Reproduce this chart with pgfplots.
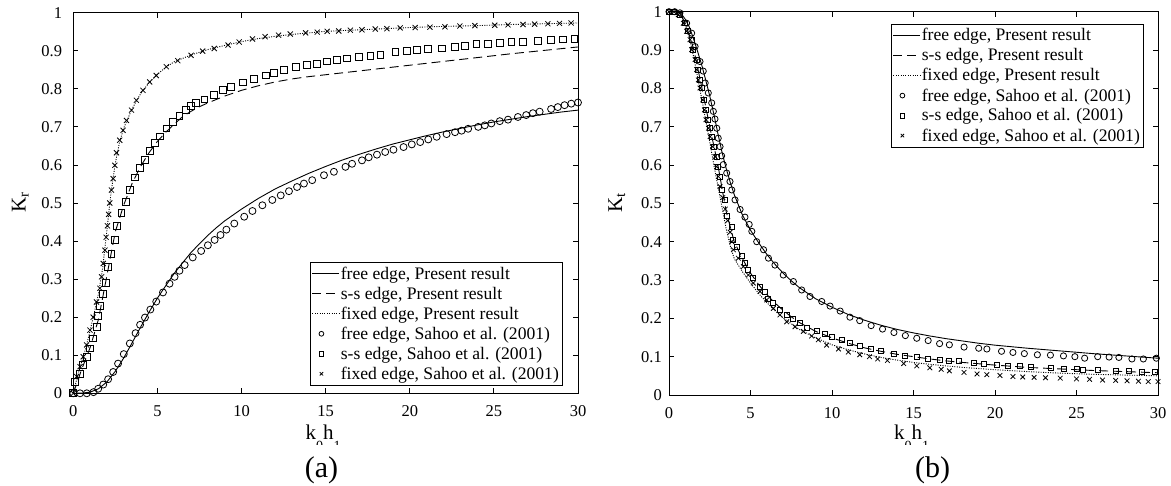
\documentclass[border=0pt]{standalone}
\usepackage{fontspec}
\setmainfont{Liberation Serif}
\usepackage{pgfplots}
\pgfplotsset{compat=1.18}
\pgfplotsset{
  lineleg/.style={legend image code/.code={\draw[##1] (0bp,0bp) -- (27bp,0bp);}},
  markleg/.style={legend image code/.code={\path[draw=none,fill=none] (0bp,0bp) -- (27bp,0bp); \path[##1,draw=none,mark size=2.4bp] plot coordinates {(9bp,0bp)};}},
  base/.style={scale only axis, xmin=0, xmax=30, ymin=0, ymax=1,
    xtick={0,5,10,15,20,25,30}, ytick={0,0.1,0.2,0.3,0.4,0.5,0.6,0.7,0.8,0.9,1},
    tick align=inside, major tick length=5bp,
    axis line style={line width=0.8bp},
    every tick/.style={black, line width=0.8bp},
    tick label style={font=\fontsize{16.5bp}{18bp}\selectfont},
    /pgf/number format/assume math mode=true,
    xticklabel style={inner sep=0pt, yshift=-12bp},
    legend cell align=left,
    legend style={font=\fontsize{17.6bp}{19bp}\selectfont, draw=black, line width=0.7bp,
      inner xsep=2bp, inner ysep=1.5bp, row sep=0pt, outer sep=0pt,
      nodes={inner xsep=1bp, inner ysep=3.1bp}},
  },
  solidl/.style={black, line width=0.9bp, lineleg},
  dashl/.style={black, line width=0.9bp, dash pattern=on 9bp off 5bp, lineleg},
  dotl/.style={black, line width=0.9bp, dash pattern=on 1bp off 1.4bp, lineleg},
  mk/.style={only marks, mark options={line width=0.8bp, black, solid}, markleg},
}
\begin{document}
\begin{tikzpicture}
\useasboundingbox (0,0) rectangle (1171bp,486bp);
% ---------------- (a) ----------------
\begin{axis}[base, at={(73.3bp,92.7bp)}, anchor=south west, width=504.7bp, height=380.6bp,
  yticklabel style={inner sep=0pt, xshift=-11bp},
  legend style={at={(0.968,0.021)}, anchor=south east}]
\addplot[solidl] coordinates {(0,0)(0.5,0.0005)(1,0.003)(1.5,0.012)(2,0.03)(2.5,0.058)(3,0.093)(3.5,0.133)(4,0.174)(4.5,0.213)(5,0.25)(5.5,0.283)(6,0.315)(6.5,0.343)(7,0.37)(7.5,0.393)(8,0.415)(8.5,0.435)(9,0.453)(10,0.484)(11,0.512)(12,0.537)(13,0.558)(14,0.578)(15,0.596)(16,0.613)(17,0.628)(18,0.642)(19,0.655)(20,0.666)(21,0.677)(22,0.687)(23,0.696)(24,0.705)(25,0.713)(26,0.72)(27,0.727)(28,0.733)(29,0.739)(30,0.744)};
\addlegendentry{free edge, Present result}
\addplot[dashl] coordinates {(0,0)(0.5,0.063)(1,0.12)(1.5,0.195)(2,0.31)(2.5,0.425)(3,0.495)(3.5,0.552)(4,0.596)(4.5,0.632)(5,0.662)(5.5,0.686)(6,0.707)(6.5,0.727)(7,0.741)(7.5,0.753)(8,0.763)(9,0.781)(10,0.796)(11,0.808)(12,0.818)(13,0.826)(14,0.832)(15,0.837)(16,0.842)(17,0.847)(18,0.852)(19,0.857)(20,0.862)(22,0.872)(24,0.882)(26,0.892)(28,0.901)(30,0.91)};
\addlegendentry{s-s edge, Present result}
\addplot[dotl] coordinates {(0,0)(0.25,0.045)(0.5,0.083)(0.75,0.12)(1,0.165)(1.25,0.212)(1.5,0.262)(1.75,0.33)(2,0.43)(2.25,0.53)(2.5,0.605)(2.75,0.66)(3,0.697)(3.5,0.748)(4,0.787)(4.5,0.816)(5,0.838)(5.5,0.857)(6,0.871)(7,0.889)(8,0.903)(9,0.914)(10,0.924)(11,0.932)(12,0.938)(13,0.943)(14,0.947)(15,0.951)(16,0.953)(18,0.957)(20,0.961)(22,0.964)(24,0.966)(26,0.969)(28,0.971)(30,0.973)};
\addlegendentry{fixed edge, Present result}
\addplot[mk, mark=o, mark size=3.5bp] coordinates {(0,0)(0.4,0)(0.8,0)(1.2,0.003)(1.48,0.012)(1.78,0.023)(2.07,0.037)(2.37,0.056)(2.66,0.078)(3.0,0.103)(3.36,0.131)(3.7,0.158)(3.97,0.18)(4.26,0.199)(4.58,0.22)(4.93,0.241)(5.33,0.265)(5.72,0.288)(6.02,0.306)(6.31,0.322)(6.62,0.337)(7.1,0.357)(7.6,0.374)(8.0,0.389)(8.4,0.403)(8.75,0.416)(9.1,0.43)(9.57,0.446)(10.16,0.464)(10.65,0.479)(11.24,0.494)(11.83,0.508)(12.33,0.52)(12.82,0.531)(13.3,0.542)(13.71,0.551)(14.2,0.56)(14.9,0.573)(15.49,0.582)(16.18,0.595)(16.57,0.603)(17.16,0.612)(17.56,0.62)(18.05,0.627)(18.54,0.634)(19.03,0.64)(19.63,0.647)(20.12,0.654)(20.62,0.66)(21.1,0.667)(21.6,0.674)(22.19,0.681)(22.69,0.686)(23.08,0.69)(23.47,0.695)(24.07,0.7)(24.46,0.704)(24.85,0.709)(25.35,0.715)(25.84,0.719)(26.43,0.726)(26.92,0.731)(27.32,0.736)(27.72,0.74)(28.4,0.747)(28.8,0.752)(29.2,0.757)(29.6,0.761)(30,0.764)};
\addlegendentry{free edge, Sahoo et al. (2001)}
\addplot[mk, mark=square, mark size=3.4bp] coordinates {(0,0)(0.1,0.03)(0.4,0.052)(0.59,0.074)(0.8,0.095)(0.99,0.118)(1.18,0.144)(1.38,0.175)(1.48,0.203)(1.58,0.229)(1.78,0.262)(1.93,0.29)(2.07,0.332)(2.27,0.367)(2.47,0.404)(2.6,0.439)(2.86,0.474)(3.12,0.503)(3.36,0.535)(3.65,0.567)(3.94,0.592)(4.24,0.614)(4.54,0.637)(4.83,0.657)(5.13,0.675)(5.53,0.696)(5.92,0.713)(6.31,0.728)(6.71,0.744)(7.0,0.755)(7.3,0.762)(7.79,0.772)(8.38,0.784)(8.88,0.797)(9.37,0.806)(10.06,0.817)(10.75,0.826)(11.44,0.835)(11.93,0.841)(12.53,0.849)(13.22,0.857)(13.9,0.862)(14.5,0.866)(15.09,0.872)(15.68,0.876)(16.27,0.88)(16.96,0.884)(17.66,0.887)(18.25,0.89)(19.14,0.896)(19.82,0.899)(20.41,0.902)(21.1,0.904)(21.89,0.906)(22.69,0.91)(23.28,0.913)(23.96,0.917)(24.66,0.919)(25.35,0.921)(26.04,0.923)(26.73,0.924)(27.62,0.926)(28.4,0.928)(29.1,0.93)(29.79,0.932)};
\addlegendentry{s-s edge, Sahoo et al. (2001)}
\addplot[mk, mark=x, mark size=3.6bp] coordinates {(0,0)(0.2,0.044)(0.4,0.07)(0.59,0.096)(0.79,0.127)(0.99,0.166)(1.18,0.2)(1.38,0.24)(1.58,0.276)(1.68,0.306)(1.78,0.341)(1.88,0.376)(1.95,0.41)(2.03,0.44)(2.1,0.47)(2.17,0.5)(2.27,0.534)(2.37,0.564)(2.47,0.599)(2.57,0.632)(2.76,0.665)(2.96,0.691)(3.16,0.717)(3.46,0.744)(3.75,0.77)(4.14,0.796)(4.54,0.818)(4.93,0.835)(5.53,0.858)(6.21,0.874)(7.0,0.888)(7.69,0.899)(8.38,0.906)(9.2,0.915)(9.86,0.923)(10.65,0.931)(11.4,0.937)(12.2,0.941)(12.9,0.944)(13.81,0.947)(14.5,0.949)(15.09,0.951)(15.78,0.952)(16.47,0.954)(17.16,0.955)(17.95,0.957)(18.64,0.958)(19.43,0.96)(20.32,0.961)(21.2,0.962)(22.09,0.963)(22.98,0.965)(23.87,0.966)(25.05,0.967)(25.84,0.968)(26.73,0.969)(27.42,0.97)(28.21,0.971)(28.9,0.972)(29.59,0.973)};
\addlegendentry{fixed edge, Sahoo et al. (2001)}
\end{axis}
% ---------------- (b) ----------------
\begin{axis}[base, at={(669bp,91bp)}, anchor=south west, width=489bp, height=383.3bp,
  yticklabel style={inner sep=0pt, xshift=-7bp},
  legend style={at={(0.969,0.968)}, anchor=north east}]
\addplot[solidl] coordinates {(0,1)(0.5,1)(0.75,0.995)(1,0.98)(1.25,0.96)(1.5,0.93)(1.75,0.897)(2,0.862)(2.25,0.822)(2.5,0.78)(2.75,0.733)(3,0.682)(3.25,0.634)(3.5,0.592)(3.75,0.556)(4,0.523)(4.5,0.47)(5,0.43)(5.5,0.397)(6,0.367)(6.5,0.341)(7,0.318)(7.5,0.298)(8,0.28)(9,0.251)(10,0.229)(11,0.21)(12,0.195)(13,0.182)(14,0.171)(15,0.162)(16,0.154)(17,0.147)(18,0.141)(19,0.135)(20,0.13)(22,0.122)(24,0.115)(26,0.108)(28,0.102)(30,0.096)};
\addlegendentry{free edge, Present result}
\addplot[dashl] coordinates {(0,1)(0.5,1)(0.75,0.99)(1,0.97)(1.5,0.905)(2,0.805)(2.5,0.7)(3,0.6)(3.5,0.48)(4,0.4)(4.5,0.356)(5,0.318)(5.5,0.288)(6,0.262)(6.5,0.24)(7,0.221)(7.5,0.204)(8,0.189)(9,0.166)(10,0.149)(11,0.135)(12,0.123)(13,0.114)(14,0.106)(15,0.1)(16,0.094)(17,0.089)(18,0.085)(20,0.078)(22,0.072)(24,0.068)(26,0.064)(28,0.061)(30,0.058)};
\addlegendentry{s-s edge, Present result}
\addplot[dotl] coordinates {(0,1)(0.5,1)(0.75,0.99)(1,0.965)(1.25,0.93)(1.5,0.885)(1.75,0.83)(2,0.775)(2.25,0.718)(2.5,0.66)(2.75,0.6)(3,0.545)(3.25,0.49)(3.5,0.435)(3.75,0.39)(4,0.356)(4.5,0.322)(5,0.292)(5.5,0.265)(6,0.241)(6.5,0.22)(7,0.201)(7.5,0.186)(8,0.171)(9,0.149)(10,0.131)(11,0.118)(12,0.107)(13,0.098)(14,0.091)(15,0.085)(16,0.08)(18,0.072)(20,0.066)(22,0.061)(24,0.057)(26,0.054)(28,0.052)(30,0.05)};
\addlegendentry{fixed edge, Present result}
\addplot[mk, mark=o, mark size=3.1bp] coordinates {(0,1)(0.35,1)(0.67,0.997)(1.08,0.97)(1.39,0.944)(1.6,0.909)(1.9,0.87)(2.1,0.845)(2.22,0.814)(2.41,0.788)(2.62,0.762)(2.72,0.74)(2.82,0.72)(2.93,0.696)(3.02,0.67)(3.13,0.648)(3.23,0.624)(3.33,0.601)(3.54,0.579)(3.74,0.557)(3.85,0.535)(4.05,0.509)(4.36,0.484)(4.66,0.464)(4.92,0.445)(5.08,0.427)(5.38,0.40)(5.8,0.379)(6.1,0.357)(6.5,0.339)(7.01,0.313)(7.63,0.296)(8.14,0.274)(8.65,0.257)(9.37,0.244)(9.88,0.232)(10.5,0.219)(11.1,0.203)(11.7,0.194)(12.4,0.181)(13.1,0.172)(13.8,0.163)(14.5,0.155)(15.2,0.148)(15.9,0.142)(16.6,0.134)(17.2,0.131)(18.1,0.125)(19.0,0.122)(19.5,0.12)(20.4,0.114)(21.1,0.111)(21.8,0.108)(22.6,0.105)(23.4,0.104)(24.2,0.102)(24.9,0.1)(25.5,0.096)(26.3,0.1)(27,0.099)(27.6,0.098)(28.4,0.094)(29.1,0.094)(29.9,0.096)};
\addlegendentry{free edge, Sahoo et al. (2001)}
\addplot[mk, mark=square, mark size=2.5bp] coordinates {(0,1)(0.3,1)(0.67,0.992)(0.98,0.97)(1.18,0.949)(1.39,0.927)(1.49,0.901)(1.7,0.875)(1.8,0.849)(1.9,0.822)(2.0,0.801)(2.17,0.77)(2.27,0.744)(2.37,0.718)(2.52,0.696)(2.62,0.674)(2.78,0.648)(2.93,0.622)(3.02,0.596)(3.13,0.57)(3.23,0.535)(3.44,0.509)(3.54,0.467)(3.85,0.438)(3.95,0.405)(4.15,0.387)(4.46,0.363)(4.66,0.344)(4.87,0.326)(5.17,0.305)(5.58,0.283)(5.89,0.27)(6.09,0.252)(6.4,0.241)(6.81,0.222)(7.22,0.209)(7.63,0.198)(8.04,0.189)(8.45,0.176)(9.06,0.166)(9.57,0.16)(9.98,0.151)(10.6,0.144)(11.1,0.137)(11.7,0.128)(12.4,0.12)(13,0.114)(13.8,0.107)(14.5,0.103)(15.2,0.099)(15.9,0.095)(16.6,0.092)(17.2,0.09)(17.8,0.088)(18.7,0.085)(19.3,0.082)(20.1,0.079)(20.8,0.077)(21.5,0.075)(22.2,0.074)(23.4,0.071)(24.2,0.069)(25,0.067)(25.4,0.066)(26.3,0.065)(27.4,0.063)(28.2,0.062)(29,0.061)(29.8,0.06)};
\addlegendentry{s-s edge, Sahoo et al. (2001)}
\addplot[mk, mark=x, mark size=3.3bp] coordinates {(0,1)(0.3,1)(0.57,0.992)(0.88,0.97)(1.08,0.949)(1.29,0.927)(1.39,0.901)(1.6,0.875)(1.7,0.849)(1.8,0.822)(1.9,0.801)(2.07,0.77)(2.17,0.744)(2.27,0.718)(2.42,0.696)(2.52,0.674)(2.68,0.648)(2.83,0.622)(2.92,0.596)(3.03,0.57)(3.13,0.544)(3.3,0.515)(3.45,0.485)(3.6,0.455)(3.75,0.425)(3.85,0.4)(3.95,0.379)(4.25,0.357)(4.56,0.335)(4.87,0.313)(5.17,0.292)(5.58,0.27)(5.99,0.248)(6.4,0.226)(6.81,0.209)(7.22,0.191)(7.73,0.178)(8.24,0.166)(8.75,0.154)(9.16,0.144)(9.67,0.13)(10.4,0.12)(11,0.112)(11.7,0.105)(12.3,0.1)(12.8,0.094)(13.4,0.09)(14.4,0.082)(15.2,0.076)(16,0.071)(16.7,0.067)(17.2,0.063)(18.1,0.059)(18.9,0.055)(19.5,0.053)(20.3,0.051)(21.1,0.048)(21.7,0.047)(22.4,0.046)(23.1,0.045)(24,0.044)(25,0.042)(25.8,0.041)(26.6,0.039)(27.4,0.038)(28.1,0.037)(28.8,0.036)(29.4,0.035)(30,0.035)};
\addlegendentry{fixed edge, Sahoo et al. (2001)}
\end{axis}
% labels
\node[anchor=base, rotate=90, font=\fontsize{21bp}{23bp}\selectfont] at (25.5bp,283.5bp) {K\textsubscript{r}};
\node[anchor=base, rotate=90, font=\fontsize{21bp}{23bp}\selectfont] at (622bp,283.5bp) {K\textsubscript{t}};
\node[anchor=base, font=\fontsize{21bp}{23bp}\selectfont] at (323bp,46.7bp) {k\raisebox{-11bp}{\fontsize{14bp}{15bp}\selectfont 0}h\raisebox{-11bp}{\fontsize{14bp}{15bp}\selectfont 1}};
\node[anchor=base, font=\fontsize{21bp}{23bp}\selectfont] at (911.7bp,46.7bp) {k\raisebox{-11bp}{\fontsize{14bp}{15bp}\selectfont 0}h\raisebox{-11bp}{\fontsize{14bp}{15bp}\selectfont 1}};
\fill[white] (260bp,0bp) rectangle (390bp,41bp);
\fill[white] (850bp,0bp) rectangle (980bp,41bp);
\node[anchor=base, font=\fontsize{30bp}{32bp}\selectfont] at (321.5bp,9bp) {(a)};
\node[anchor=base, font=\fontsize{30bp}{32bp}\selectfont] at (932.5bp,9bp) {(b)};
\end{tikzpicture}
\end{document}
